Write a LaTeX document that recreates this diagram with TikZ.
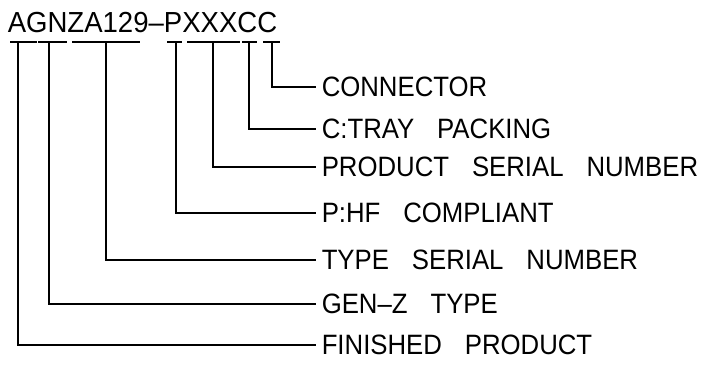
\documentclass[tikz,border=0pt]{standalone}
\usepackage{fontspec}
\setmainfont{Liberation Sans}
\newfontfamily\lblfont{Liberation Sans}[FakeStretch=0.92, WordSpace=3.2]
\newfontfamily\codefont{Liberation Sans}[FakeStretch=0.95]
\begin{document}
\begin{tikzpicture}[x=1pt, y=-1pt, line width=1.5pt,
    lbl/.style={anchor=west, inner xsep=5pt, inner ysep=0pt, font=\lblfont\fontsize{28}{30}\selectfont},
    code/.style={anchor=base west, inner sep=0pt, font=\codefont\fontsize{29}{31}\selectfont}]
    \useasboundingbox (0,0) rectangle (708,366);
    % Nodes
    \node[code] (pn) at (7,33) {AGNZA129–PXXXCC};
    \node[lbl] (conn) at (316,87) {CONNECTOR};
    \node[lbl] (tray) at (316,129) {C:TRAY PACKING};
    \node[lbl] (prod) at (316,167) {PRODUCT SERIAL NUMBER};
    \node[lbl] (hf) at (316,213) {P:HF COMPLIANT};
    \node[lbl] (tsn) at (316,260) {TYPE SERIAL NUMBER};
    \node[lbl] (genz) at (316,304) {GEN–Z TYPE};
    \node[lbl] (fin) at (316,345) {FINISHED PRODUCT};

    % Underlines
    \draw (10,42) -- (37,42);
    \draw (38,42) -- (67,42);
    \draw (72,42) -- (140,42);
    \draw (167,42) -- (182,42);
    \draw (187,42) -- (240,42);
    \draw (242,42) -- (257,42);
    \draw (263,42) -- (280,42);
    \coordinate (t1) at (18,42);
    \coordinate (t2) at (49,42);
    \coordinate (t3) at (106,42);
    \coordinate (t4) at (176,42);
    \coordinate (t5) at (213,42);
    \coordinate (t6) at (249,42);
    \coordinate (t7) at (272,42);

    % Leaders
    \draw (t1) |- (fin.west);
    \draw (t2) |- (genz.west);
    \draw (t3) |- (tsn.west);
    \draw (t4) |- (hf.west);
    \draw (t5) |- (prod.west);
    \draw (t6) |- (tray.west);
    \draw (t7) |- (conn.west);
\end{tikzpicture}
\end{document}
